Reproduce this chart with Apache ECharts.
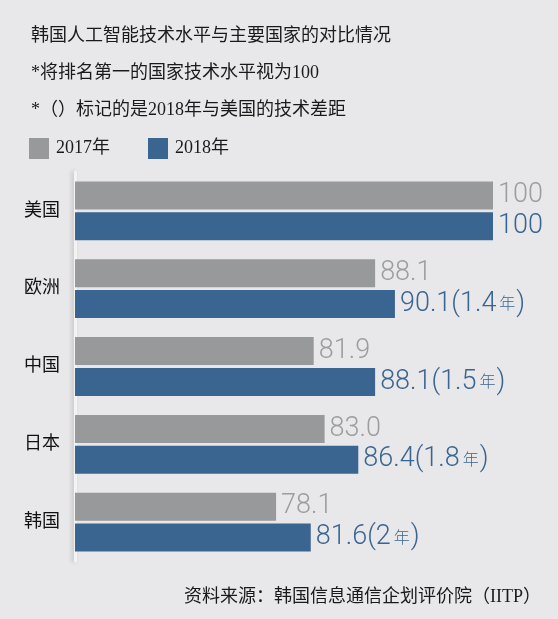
<!DOCTYPE html>
<html>
<head>
<meta charset="utf-8">
<script src="https://cdn.jsdelivr.net/npm/echarts@6/dist/echarts.min.js"></script>
<style>
  html, body { margin: 0; padding: 0; background: #e8e8ea; }
  #main { width: 558px; height: 619px; }
</style>
</head>
<body>
<div id="main"></div>
<script>
var categories = ['美国', '欧洲', '中国', '日本', '韩国'];
var values2017 = [100, 88.1, 81.9, 83.0, 78.1];
var values2018 = [100, 90.1, 88.1, 86.4, 81.6];
var gapYears = [null, '1.4', '1.5', '1.8', '2'];

var serif = "'Liberation Serif','Noto Sans CJK SC'";
var thin = "'Roboto','DejaVu Sans Condensed','Noto Sans CJK SC'";

function fmtVal(v) {
    return v === 100 ? '100' : v.toFixed(1);
}

var myChart = echarts.init(document.getElementById('main'));
var option = {
    backgroundColor: '#e8e8ea',
    animation: false,
    title: [{
        text: '韩国人工智能技术水平与主要国家的对比情况',
        left: 26, top: 22,
        textStyle: { fontSize: 18, fontWeight: 'normal', color: '#1a1a1a', fontFamily: serif }
    }, {
        text: '*将排名第一的国家技术水平视为100',
        left: 26, top: 59,
        textStyle: { fontSize: 18, fontWeight: 'normal', color: '#1a1a1a', fontFamily: serif }
    }, {
        text: '*（）标记的是2018年与美国的技术差距',
        left: 26, top: 96,
        textStyle: { fontSize: 18, fontWeight: 'normal', color: '#1a1a1a', fontFamily: serif }
    }, {
        text: '资料来源：韩国信息通信企划评价院（IITP）',
        right: 12, top: 583,
        textStyle: { fontSize: 18, fontWeight: 'normal', color: '#1a1a1a', fontFamily: serif }
    }],
    legend: {
        left: 24, top: 133,
        itemWidth: 20, itemHeight: 21,
        itemGap: 38,
        icon: 'rect',
        textStyle: { fontSize: 18, color: '#1a1a1a', fontFamily: serif, padding: [0, 0, 0, 2] },
        data: ['2017年', '2018年']
    },
    grid: { left: 75, right: 65, top: 172, bottom: 58 },
    xAxis: {
        type: 'value',
        min: 57.8,
        max: 100,
        show: false
    },
    yAxis: {
        type: 'category',
        inverse: true,
        data: categories,
        axisTick: { show: false },
        axisLine: {
            show: true,
            lineStyle: {
                color: '#f3f3f4', width: 3,
                shadowColor: 'rgba(0,0,0,0.18)', shadowBlur: 4, shadowOffsetX: -2
            }
        },
        axisLabel: { fontSize: 18, color: '#111', margin: 15, fontFamily: serif }
    },
    series: [{
        name: '2017年',
        type: 'bar',
        barWidth: 28,
        barGap: '10%',
        itemStyle: { color: '#98999b' },
        label: {
            show: true,
            position: 'right',
            distance: 5,
            fontSize: 27,
            fontWeight: 300,
            color: '#9c9d9f',
            fontFamily: thin,
            formatter: function (p) { return fmtVal(p.value); }
        },
        data: values2017
    }, {
        name: '2018年',
        type: 'bar',
        barWidth: 28,
        barGap: '10%',
        itemStyle: { color: '#3a6590' },
        label: {
            show: true,
            position: 'right',
            distance: 5,
            fontSize: 27,
            fontWeight: 300,
            color: '#3a6590',
            fontFamily: thin,
            formatter: function (p) {
                var g = gapYears[p.dataIndex];
                var s = fmtVal(p.value);
                if (g) s += '(' + g + '{u|年})';
                return s;
            },
            rich: {
                u: { fontSize: 16, color: '#3a6590', fontFamily: "'Noto Sans CJK SC'", padding: [0, 1, 2, 3] }
            }
        },
        data: values2018
    }]
};
myChart.setOption(option);
</script>
</body>
</html>
